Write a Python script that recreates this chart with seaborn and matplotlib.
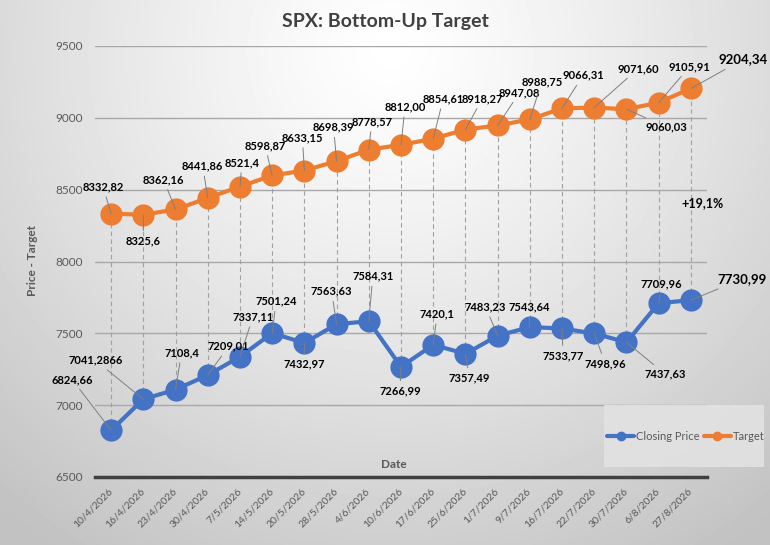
import numpy as np
import pandas as pd
import matplotlib.pyplot as plt
from matplotlib.lines import Line2D
from matplotlib.patches import Rectangle
import seaborn as sns

# Chart data
dates = ['10/4/2026', '16/4/2026', '23/4/2026', '30/4/2026', '7/5/2026',
         '14/5/2026', '20/5/2026', '28/5/2026', '4/6/2026', '10/6/2026',
         '17/6/2026', '25/6/2026', '1/7/2026', '9/7/2026', '16/7/2026',
         '22/7/2026', '30/7/2026', '6/8/2026', '27/8/2026']
closing_price = [6824.66, 7041.2866, 7108.4, 7209.01, 7337.11, 7501.24, 7432.97,
                 7563.63, 7584.31, 7266.99, 7420.1, 7357.49, 7483.23, 7543.64,
                 7533.77, 7498.96, 7437.63, 7709.96, 7730.99]
target = [8332.82, 8325.6, 8362.16, 8441.86, 8521.4, 8598.87, 8633.15, 8698.39,
          8778.57, 8812.00, 8854.61, 8918.27, 8947.08, 8988.75, 9066.31, 9071.60,
          9060.03, 9105.91, 9204.34]
closing_labels = ['6824,66', '7041,2866', '7108,4', '7209,01', '7337,11', '7501,24',
                  '7432,97', '7563,63', '7584,31', '7266,99', '7420,1', '7357,49',
                  '7483,23', '7543,64', '7533,77', '7498,96', '7437,63', '7709,96',
                  '7730,99']
target_labels = ['8332,82', '8325,6', '8362,16', '8441,86', '8521,4', '8598,87',
                 '8633,15', '8698,39', '8778,57', '8812,00', '8854,61', '8918,27',
                 '8947,08', '8988,75', '9066,31', '9071,60', '9060,03', '9105,91',
                 '9204,34']
upside_label = '+19,1%'

# label offsets from the marker, in pixels (dx, dy)
target_offsets = [(-8, 27), (0, -26), (-12, 30), (-5, 32), (2, 24), (-7, 30),
                  (-2, 33), (-3, 34), (3, 28), (4, 38), (10, 40), (17, 31),
                  (22, 33), (12, 38), (21, 33), (44, 39), (40, -18), (31, 36),
                  (52, 29)]
closing_offsets = [(-39, 51), (-48, 39), (6, 37), (21, 29), (13, 40), (4, 32),
                   (0, -21), (-5, 33), (4, 45), (-1, -24), (4, 31), (4, -24),
                   (-12, 29), (-1, 20), (1, -27), (11, -30), (39, -32), (3, 19),
                   (51, 21)]

BLUE = '#4472C4'
ORANGE = '#ED7D31'

sns.set_theme(style='white')
plt.rcParams['font.family'] = ['Lato', 'DejaVu Sans']

W, H = 770, 545
fig = plt.figure(figsize=(W / 100, H / 100), dpi=100)

# soft radial gradient behind everything
bg = fig.add_axes([0, 0, 1, 1], zorder=-10)
yy, xx = np.mgrid[0:H, 0:W]
r = np.hypot(xx - 390, yy - 50) / 600
shade = 1.0 - 0.24 * np.clip(r, 0, 1) ** 1.2
bg.imshow(shade, cmap='gray', vmin=0, vmax=1, aspect='auto')
bg.axis('off')

ax = fig.add_axes([95 / W, 1 - 477 / H, 612 / W, 431 / H])
ax.patch.set_alpha(0)

idx = list(range(len(dates)))
df = pd.DataFrame({
    'idx': idx * 2,
    'value': closing_price + target,
    'series': ['Closing Price'] * len(dates) + ['Target'] * len(dates),
})

# high-low lines between the two series
ax.vlines(idx, closing_price, target, colors='#a0a0a0',
          linestyles=(0, (4, 3)), linewidth=0.8, zorder=1)

sns.lineplot(data=df, x='idx', y='value', hue='series',
             palette={'Closing Price': BLUE, 'Target': ORANGE},
             marker='o', markersize=16, markeredgewidth=0, linewidth=3,
             legend=False, ax=ax, zorder=3, clip_on=False)

ax.set_xlim(-0.5, len(dates) - 0.5)
ax.set_ylim(6500, 9500)
ax.set_yticks(range(6500, 10000, 500))
ax.set_xticks(idx)
ax.set_xticklabels(dates, rotation=45, ha='right', va='center',
                   rotation_mode='anchor', fontsize=7.5, color='#595959')
ax.tick_params(axis='x', length=0, pad=9)
ax.tick_params(axis='y', length=0, pad=9, labelsize=8.5, labelcolor='#595959')
ax.yaxis.grid(True, color='#a8a8a8', linewidth=1)
ax.set_axisbelow(True)
ax.set_xlabel('')
ax.set_ylabel('')
for side in ['left', 'right', 'top']:
    ax.spines[side].set_visible(False)
ax.spines['bottom'].set_color('#404040')
ax.spines['bottom'].set_linewidth(2.5)

# data labels with leader lines
def add_labels(values, labels, offsets):
    for i, (v, lab, off) in enumerate(zip(values, labels, offsets)):
        last = i == len(values) - 1
        ax.annotate(lab, xy=(i, v), xytext=off, textcoords='offset pixels',
                    ha='center', va='center',
                    fontsize=9.5 if last else 8, fontweight='bold', color='black',
                    arrowprops=dict(arrowstyle='-', color='#7f7f7f', lw=0.7,
                                    shrinkA=1, shrinkB=0),
                    annotation_clip=False, zorder=5)

add_labels(target, target_labels, target_offsets)
add_labels(closing_price, closing_labels, closing_offsets)

fig.text(385 / W, 1 - 22 / H, 'SPX: Bottom-Up Target', ha='center', va='center',
         fontsize=14, fontweight='bold', color='#404040')
fig.text(33 / W, 1 - 260 / H, 'Price - Target', ha='center', va='center',
         rotation=90, fontsize=8.5, fontweight='bold', color='#595959')
fig.text(394 / W, 1 - 465 / H, 'Date', ha='center', va='center',
         fontsize=8.5, fontweight='bold', color='#595959')
fig.text(703 / W, 1 - 203 / H, upside_label, ha='center', va='center',
         fontsize=9, fontweight='bold', color='black')

# legend box
fig.add_artist(Rectangle((604 / W, 1 - 467 / H), 160 / W, 62 / H,
                         transform=fig.transFigure, facecolor='#e2e2e2',
                         edgecolor='none', alpha=0.9, zorder=4))
handles = [Line2D([], [], color=BLUE, lw=3, marker='o', markersize=6),
           Line2D([], [], color=ORANGE, lw=3, marker='o', markersize=6)]
leg = fig.legend(handles, ['Closing Price', 'Target'], loc='center',
                 bbox_to_anchor=(686 / W, 1 - 436 / H), ncol=2, frameon=False,
                 fontsize=8, labelcolor='#595959', handlelength=2.4,
                 handletextpad=0.2, columnspacing=0.4)
leg.set_zorder(6)

fig.savefig('out.png', dpi=100)
